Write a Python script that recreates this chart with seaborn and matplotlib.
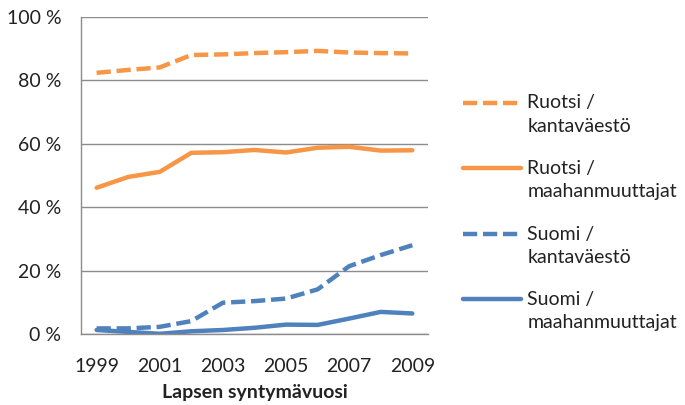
import numpy as np
import pandas as pd
import matplotlib
matplotlib.use("Agg")
import matplotlib.pyplot as plt
from matplotlib.ticker import FixedLocator, FuncFormatter
from matplotlib.legend_handler import HandlerLine2D
import seaborn as sns

years = list(range(1999, 2010))
ruotsi_kanta = [82.3, 83.2, 84.0, 87.9, 88.1, 88.5, 88.8, 89.2, 88.7, 88.5, 88.4]
ruotsi_maahan = [46.1, 49.5, 51.1, 57.1, 57.3, 58.0, 57.2, 58.7, 59.0, 57.8, 57.9]
suomi_kanta = [1.8, 1.8, 2.3, 4.1, 9.9, 10.4, 11.2, 14.1, 21.4, 24.9, 28.0]
suomi_maahan = [1.3, 0.7, 0.1, 0.9, 1.3, 2.0, 3.0, 2.9, 4.9, 7.0, 6.5]

labels = ["Ruotsi /\nkantaväestö", "Ruotsi /\nmaahanmuuttajat",
          "Suomi /\nkantaväestö", "Suomi /\nmaahanmuuttajat"]
series = [ruotsi_kanta, ruotsi_maahan, suomi_kanta, suomi_maahan]

df = pd.concat([pd.DataFrame({"vuosi": years, "osuus": v, "ryhma": l})
                for l, v in zip(labels, series)])

sns.set_style("white")
plt.rcParams["font.family"] = ["Lato", "DejaVu Sans"]

orange = "#F79646"
blue = "#4F81BD"
grid = "#8C8C8C"
txt = "#222222"


class TopLine(HandlerLine2D):
    # put the legend line level with the first text line
    def create_artists(self, legend, orig_handle, xdescent, ydescent,
                       width, height, fontsize, trans):
        arts = super().create_artists(legend, orig_handle, xdescent, ydescent,
                                      width, height, fontsize, trans)
        for a in arts:
            a.set_ydata(np.asarray(a.get_ydata()) + 0.62 * fontsize)
        return arts


fig = plt.figure(figsize=(6.85, 4.05), dpi=100)
ax = fig.add_axes([0.118, 0.175, 0.507, 0.784])

sns.lineplot(data=df, x="vuosi", y="osuus", hue="ryhma", style="ryhma",
             palette=[orange, orange, blue, blue],
             dashes=[(3.2, 1.3), "", (3.2, 1.3), ""],
             linewidth=3.2, ax=ax)

ax.set_xlim(1998.5, 2009.5)
ax.set_ylim(0, 100)
ax.set_yticks([0, 20, 40, 60, 80, 100])
ax.yaxis.set_major_formatter(FuncFormatter(lambda v, p: f"{int(v)} %"))
ax.set_xticks(years[::2])
ax.xaxis.set_minor_locator(FixedLocator(np.arange(1998.5, 2010, 1)))
ax.tick_params(axis="x", which="major", length=0, pad=17, labelsize=14, labelcolor=txt)
ax.tick_params(axis="x", which="minor", length=5, width=1, color=grid, direction="out")
ax.tick_params(axis="y", length=5, width=1, color=grid, labelsize=14, labelcolor=txt, pad=9)

ax.grid(axis="y", color=grid, linewidth=1)
ax.set_axisbelow(True)
for s in ["top", "right"]:
    ax.spines[s].set_visible(False)
for s in ["left", "bottom"]:
    ax.spines[s].set_color(grid)
    ax.spines[s].set_linewidth(1)

ax.set_ylabel("")
ax.set_xlabel("Lapsen syntymävuosi", fontsize=14, fontweight="bold",
              labelpad=6.5, color=txt)

handles, lbls = ax.get_legend_handles_labels()
leg = ax.legend(handles, lbls, loc="upper left", bbox_to_anchor=(1.05, 0.81),
                frameon=False, fontsize=14, handlelength=3.0, handletextpad=0.3,
                labelspacing=1.3, handler_map={h: TopLine() for h in handles})
for t in leg.get_texts():
    t.set_linespacing(1.45)
    t.set_color(txt)

fig.savefig("out.png", dpi=100)
